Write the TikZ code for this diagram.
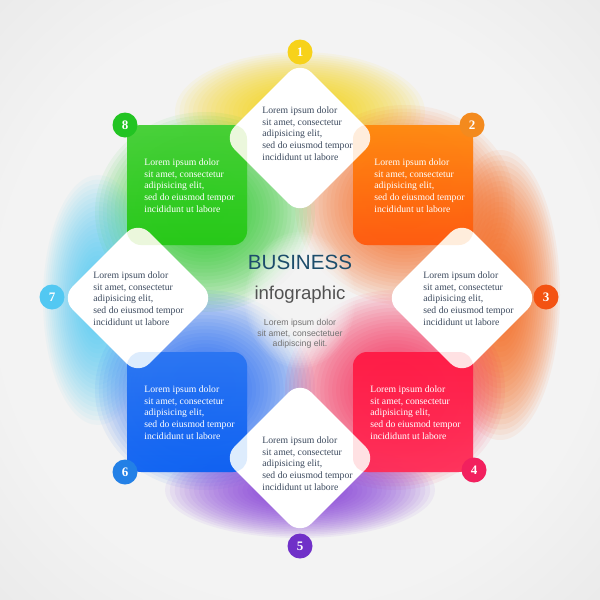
\documentclass[tikz,border=0pt]{standalone}
\usepackage{fontspec}
\setmainfont{Liberation Serif}
\setsansfont{Liberation Sans}
\usetikzlibrary{shapes.geometric}
\definecolor{bggray}{HTML}{EAEAEA}
\definecolor{cYel}{HTML}{FFD400}
\definecolor{cGrn}{HTML}{18C818}
\definecolor{cCyn}{HTML}{28C4F2}
\definecolor{cBlu}{HTML}{0A5CF2}
\definecolor{cPur}{HTML}{7A2AD8}
\definecolor{cPnk}{HTML}{FF1A4E}
\definecolor{cOrg}{HTML}{FF6212}
\definecolor{txtdark}{HTML}{3C4A5E}
\definecolor{bizcol}{HTML}{1D4D6B}
\definecolor{n1}{HTML}{F7D21A}
\definecolor{n2}{HTML}{F38A1E}
\definecolor{n3}{HTML}{F35212}
\definecolor{n4}{HTML}{F2205E}
\definecolor{n5}{HTML}{7030C8}
\definecolor{n6}{HTML}{2380E6}
\definecolor{n7}{HTML}{52C8F2}
\definecolor{n8}{HTML}{22C422}
% soft glow: stacked translucent ellipses
\newcommand{\softglow}[6]{% colour, x, y, a, b, opacity per layer
  \foreach \k in {1,...,28}{
    \fill[#1, opacity=#6] (#2,#3) ellipse ({#4*\k/28} and {#5*\k/28});
  }}
\tikzset{
  lbl/.style={font=\fontsize{4.85}{5.8}\selectfont, align=left, anchor=north west, inner sep=0pt},
  dtext/.style={lbl, text=txtdark},
  stext/.style={lbl, text=white},
  numc/.style={circle, minimum size=12.5pt, inner sep=0pt, text=white, font=\fontsize{6.5}{7}\selectfont\bfseries},
  diam/.style={diamond, fill=white, minimum width=77pt, minimum height=77pt, inner sep=0pt, rounded corners=8pt},
  sqbox/.style={rectangle, minimum size=60pt, inner sep=0pt, rounded corners=7pt},
  sqtint/.style={sqbox, fill opacity=0.14},
}
\begin{document}
\begin{tikzpicture}[x=0.5pt,y=-0.5pt]
\useasboundingbox (0,0) rectangle (600,600);
% background
\fill[bggray] (0,0) rectangle (600,600);
\softglow{white}{300}{300}{430}{430}{0.08}
% colour glows
\softglow{cYel}{300}{112}{125}{60}{0.06}
\softglow{cOrg}{405}{205}{110}{100}{0.06}
\softglow{cOrg}{500}{295}{60}{145}{0.065}
\softglow{cGrn}{205}{212}{110}{100}{0.06}
\softglow{cCyn}{98}{300}{55}{125}{0.045}
\softglow{cBlu}{205}{390}{110}{100}{0.06}
\softglow{cPnk}{395}{390}{110}{100}{0.06}
\softglow{cPur}{300}{490}{135}{48}{0.06}
\softglow{white}{300}{300}{55}{68}{0.07}
% squares
\node[sqbox, top color=cGrn!85!white, bottom color=cGrn, fill opacity=0.95] (sqG) at (187,185) {};
\node[sqbox, top color=cOrg!75!yellow, bottom color=cOrg!85!red, fill opacity=0.95] (sqO) at (413,185) {};
\node[sqbox, top color=cBlu!85!white, bottom color=cBlu, fill opacity=0.95] (sqB) at (187,412) {};
\node[sqbox, top color=cPnk!90!red, bottom color=cPnk!92!white, fill opacity=0.95] (sqR) at (413,412) {};
% diamonds
\node[diam] (dT) at (300,138) {};
\node[diam] (dR) at (462,298) {};
\node[diam] (dB) at (300,458) {};
\node[diam] (dL) at (138,298) {};
% translucent square corners over diamonds
\node[sqtint, fill=cGrn!60!cYel] (tG) at (187,185) {};
\node[sqtint, fill=cOrg!70!cYel] (tO) at (413,185) {};
\node[sqtint, fill=cBlu!70!cCyn] (tB) at (187,412) {};
\node[sqtint, fill=cPnk!70!cOrg] (tR) at (413,412) {};
% texts
\node[dtext] (xT) at (262,106.5) {Lorem ipsum dolor\\sit amet, consectetur\\adipisicing elit,\\sed do eiusmod tempor\\incididunt ut labore};
\node[dtext] (xR) at (423,271.5) {Lorem ipsum dolor\\sit amet, consectetur\\adipisicing elit,\\sed do eiusmod tempor\\incididunt ut labore};
\node[dtext] (xB) at (262,436.5) {Lorem ipsum dolor\\sit amet, consectetur\\adipisicing elit,\\sed do eiusmod tempor\\incididunt ut labore};
\node[dtext] (xL) at (93,271.5) {Lorem ipsum dolor\\sit amet, consectetur\\adipisicing elit,\\sed do eiusmod tempor\\incididunt ut labore};
\node[stext] (xG) at (144,158.5) {Lorem ipsum dolor\\sit amet, consectetur\\adipisicing elit,\\sed do eiusmod tempor\\incididunt ut labore};
\node[stext] (xO) at (374,158.5) {Lorem ipsum dolor\\sit amet, consectetur\\adipisicing elit,\\sed do eiusmod tempor\\incididunt ut labore};
\node[stext] (xB2) at (144,385.5) {Lorem ipsum dolor\\sit amet, consectetur\\adipisicing elit,\\sed do eiusmod tempor\\incididunt ut labore};
\node[stext] (xR2) at (370,385.5) {Lorem ipsum dolor\\sit amet, consectetur\\adipisicing elit,\\sed do eiusmod tempor\\incididunt ut labore};
% centre
\node[text=bizcol, font=\sffamily\fontsize{10.3}{12}\selectfont, inner sep=0pt] (biz) at (300,262) {BUSINESS};
\node[text=black!68, font=\sffamily\fontsize{9.3}{11}\selectfont, inner sep=0pt] (info) at (300,295) {infographic};
\node[text=black!55, font=\sffamily\fontsize{4.35}{5.2}\selectfont, align=center, inner sep=0pt] (ctext) at (300,334) {Lorem ipsum dolor\\sit amet, consectetuer\\adipiscing elit.};
% number circles
\node[numc, fill=n1] (c1) at (300,52) {1};
\node[numc, fill=n2] (c2) at (472,125) {2};
\node[numc, fill=n3] (c3) at (546,297) {3};
\node[numc, fill=n4] (c4) at (474,470) {4};
\node[numc, fill=n5] (c5) at (300,546) {5};
\node[numc, fill=n6] (c6) at (125,472) {6};
\node[numc, fill=n7] (c7) at (52,297) {7};
\node[numc, fill=n8] (c8) at (125,125) {8};
\end{tikzpicture}
\end{document}
